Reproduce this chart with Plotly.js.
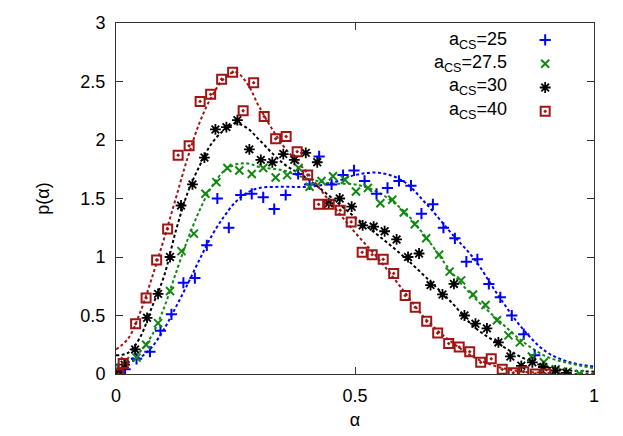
<!DOCTYPE html>
<html>
<head>
<meta charset="utf-8">
<script src="https://cdn.plot.ly/plotly-3.0.1.min.js"></script>
<style>html,body{margin:0;padding:0;background:#fff}#chart{width:623px;height:436px}</style>
</head>
<body>
<div id="chart"></div>
<script>
// ---- data ----
var seriesNames = ["a<sub>CS</sub>=25", "a<sub>CS</sub>=27.5", "a<sub>CS</sub>=30", "a<sub>CS</sub>=40"];

var a25 = [0.005,0.019,0.043,0.071,0.093,0.116,0.141,0.165,0.190,0.212,0.236,0.261,0.284,0.308,0.331,0.355,0.381,0.405,0.425,0.451,0.475,0.498,0.520,0.545,0.568,0.592,0.617,0.639,0.663,0.685,0.709,0.733,0.756,0.780,0.804,0.828,0.853,0.876];
var p25 = [0.02,0.04,0.13,0.19,0.37,0.51,0.78,0.82,1.10,1.50,1.25,1.53,1.54,1.51,1.41,1.53,1.71,1.62,1.86,1.62,1.70,1.74,1.65,1.54,1.59,1.65,1.61,1.37,1.45,1.25,1.16,0.96,0.98,0.77,0.655,0.50,0.34,0.16];

var a27 = [0.005,0.019,0.043,0.063,0.088,0.113,0.137,0.163,0.187,0.210,0.233,0.258,0.284,0.308,0.334,0.358,0.382,0.405,0.430,0.454,0.479,0.502,0.527,0.553,0.578,0.602,0.625,0.649,0.676,0.698,0.722,0.747,0.773,0.797,0.821,0.845,0.870,0.895,0.920,0.945,0.970];
var p27 = [0.03,0.11,0.14,0.25,0.435,0.71,1.05,1.20,1.54,1.64,1.76,1.74,1.71,1.76,1.68,1.70,1.76,1.60,1.65,1.69,1.66,1.56,1.59,1.46,1.49,1.38,1.28,1.16,1.02,0.875,0.80,0.68,0.59,0.46,0.33,0.27,0.15,0.10,0.04,0.02,0.00];

var a30 = [0.005,0.018,0.040,0.065,0.088,0.113,0.136,0.160,0.185,0.208,0.231,0.254,0.279,0.303,0.327,0.350,0.373,0.397,0.421,0.445,0.468,0.493,0.516,0.539,0.562,0.587,0.611,0.634,0.658,0.683,0.707,0.729,0.752,0.776,0.800,0.825,0.848,0.871,0.894,0.919,0.942];
var p30 = [0.01,0.08,0.21,0.48,0.685,1.00,1.44,1.62,1.85,2.09,2.11,2.17,1.92,1.83,1.81,1.88,1.83,1.89,1.81,1.46,1.50,1.43,1.27,1.26,1.22,1.15,1.00,1.03,0.76,0.68,0.77,0.50,0.43,0.39,0.27,0.15,0.07,0.10,0.06,0.03,0.01];

var a40 = [0.005,0.015,0.041,0.063,0.085,0.108,0.130,0.153,0.176,0.198,0.221,0.244,0.266,0.288,0.310,0.334,0.356,0.379,0.401,0.424,0.446,0.469,0.492,0.515,0.536,0.559,0.581,0.605,0.626,0.650,0.673,0.696,0.718,0.740,0.763,0.785,0.808,0.831,0.853,0.877,0.899];
var p40 = [0.00,0.09,0.43,0.65,0.975,1.24,1.87,1.95,2.33,2.39,2.52,2.58,2.25,2.49,2.20,2.01,2.03,1.90,1.70,1.45,1.45,1.40,1.30,1.04,1.02,0.98,0.86,0.67,0.57,0.45,0.35,0.26,0.23,0.19,0.10,0.13,0.04,0.01,0.02,0.00,0.00];

// fitted curves
var fitA   = [0,0.025,0.05,0.075,0.1,0.125,0.15,0.175,0.2,0.225,0.25,0.275,0.3,0.35,0.4,0.45,0.5,0.55,0.6,0.65,0.7,0.75,0.8,0.85,0.9,0.95,1];
var fit25  = [0.08,0.10,0.14,0.23,0.38,0.57,0.77,0.98,1.18,1.34,1.47,1.55,1.59,1.60,1.60,1.63,1.70,1.72,1.65,1.45,1.21,0.98,0.67,0.39,0.19,0.10,0.065];
var fit27  = [0.07,0.11,0.19,0.33,0.56,0.86,1.15,1.40,1.60,1.73,1.79,1.80,1.77,1.74,1.67,1.63,1.62,1.55,1.40,1.16,0.88,0.65,0.46,0.28,0.15,0.09,0.05];
var fit30  = [0.16,0.18,0.31,0.57,0.83,1.22,1.55,1.78,1.97,2.08,2.14,2.10,2.00,1.80,1.67,1.51,1.34,1.18,1.01,0.82,0.62,0.40,0.26,0.14,0.06,0.03,0.02];
var fit40  = [0.21,0.30,0.52,0.82,1.15,1.50,1.85,2.15,2.37,2.52,2.58,2.48,2.28,1.95,1.72,1.46,1.21,0.98,0.72,0.46,0.28,0.14,0.06,0.02,0.01,0.00,0.00];

var xTicks = [0, 0.5, 1];
var yTicks = [0, 0.5, 1, 1.5, 2, 2.5, 3];

// ---- styling ----
var colors = ['#0000ff', '#118811', '#000000', '#a01414'];
var symbols = ['cross-thin-open', 'x-thin-open', 'asterisk-open', 'square-open-dot'];
var msizes = [8, 8, 9, 9];
var mwidths = [2, 2, 1.8, 2];
var font = 'Liberation Sans, Arial, sans-serif';

var ptsX = [a25, a27, a30, a40];
var ptsY = [p25, p27, p30, p40];
var fits = [fit25, fit27, fit30, fit40];

var traces = [];
for (var i = 0; i < 4; i++) {
  traces.push({
    x: fitA, y: fits[i], type: 'scatter', mode: 'lines',
    line: {color: colors[i], width: 2, dash: '3px,2.5px', shape: 'spline', smoothing: 1},
    showlegend: false, hoverinfo: 'skip'
  });
}
for (var j = 0; j < 4; j++) {
  traces.push({
    x: ptsX[j], y: ptsY[j], type: 'scatter', mode: 'markers', name: ' ',
    marker: {symbol: symbols[j], size: msizes[j], color: colors[j],
             line: {color: colors[j], width: mwidths[j]}},
    showlegend: true
  });
}

var annotations = [];
var legY = [0.951, 0.885, 0.819, 0.752];
for (var k = 0; k < 4; k++) {
  annotations.push({
    xref: 'paper', yref: 'paper', x: 0.823, y: legY[k], xanchor: 'right', yanchor: 'middle',
    text: seriesNames[k], showarrow: false, font: {family: font, size: 18, color: '#000'}
  });
}

var layout = {
  width: 623, height: 436,
  margin: {l: 116, r: 28.5, t: 22.7, b: 61.7},
  paper_bgcolor: '#fff', plot_bgcolor: '#fff',
  font: {family: font, size: 18, color: '#000'},
  showlegend: true,
  legend: {x: 0.856, y: 1, xanchor: 'left', yanchor: 'top', bgcolor: 'rgba(0,0,0,0)',
           borderwidth: 0, font: {family: font, size: 16}, tracegroupgap: 0},
  annotations: annotations,
  xaxis: {
    range: [0, 1], tickvals: xTicks, ticktext: xTicks.map(String),
    ticks: 'inside', ticklen: 7, tickcolor: '#333', tickwidth: 1,
    showline: true, linecolor: '#333', linewidth: 1, mirror: 'allticks',
    showgrid: false, zeroline: false,
    tickfont: {family: font, size: 18}, ticklabelstandoff: 5,
    title: {text: 'α', font: {family: font, size: 18}, standoff: 8}
  },
  yaxis: {
    range: [0, 3], tickvals: yTicks, ticktext: yTicks.map(String),
    ticks: 'inside', ticklen: 7, tickcolor: '#333', tickwidth: 1,
    showline: true, linecolor: '#333', linewidth: 1, mirror: 'allticks',
    showgrid: false, zeroline: false,
    tickfont: {family: font, size: 18}, ticklabelstandoff: 6,
    title: {text: 'p(α)', font: {family: font, size: 18}, standoff: 26}
  }
};

Plotly.newPlot('chart', traces, layout, {displayModeBar: false, staticPlot: true});
</script>
</body>
</html>
